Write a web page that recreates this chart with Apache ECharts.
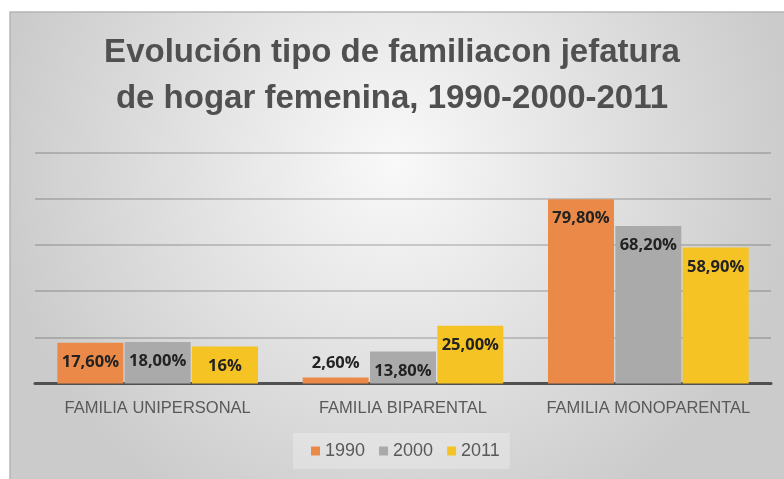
<!DOCTYPE html>
<html>
<head>
<meta charset="utf-8">
<script src="https://cdn.jsdelivr.net/npm/echarts@6/dist/echarts.min.js"></script>
<style>
  html, body { margin: 0; padding: 0; background: #fff; }
  #chart { width: 784px; height: 479px; }
</style>
</head>
<body>
<div id="chart"></div>
<script>
var categories = ['FAMILIA UNIPERSONAL', 'FAMILIA BIPARENTAL', 'FAMILIA MONOPARENTAL'];
var years = ['1990', '2000', '2011'];
var values1990 = [17.6, 2.6, 79.8];
var values2000 = [18.0, 13.8, 68.2];
var values2011 = [16, 25.0, 58.9];
var labels1990 = ['17,60%', '2,60%', '79,80%'];
var labels2000 = ['18,00%', '13,80%', '68,20%'];
var labels2011 = ['16%', '25,00%', '58,90%'];
var colors = ['#eb8a48', '#aaaaaa', '#f6c324'];

var chart = echarts.init(document.getElementById('chart'));

function makeSeries(name, vals, labels, color) {
    return {
        name: name,
        type: 'bar',
        barWidth: 66,
        barGap: '2%',
        itemStyle: { color: color },
        label: {
            show: true,
            position: 'insideTop',
            distance: 11,
            fontFamily: 'Open Sans',
            fontWeight: 'bold',
            fontSize: 16.5,
            color: '#222',
            formatter: function (p) { return labels[p.dataIndex]; }
        },
        data: vals.map(function (v) {
            // a very short bar gets its label above it
            if (v < 5) {
                return { value: v, label: { position: 'top', distance: 6 } };
            }
            return v;
        })
    };
}

var option = {
    animation: false,
    graphic: [{
        type: 'rect',
        z: -10,
        silent: true,
        shape: { x: 10, y: 12, width: 800, height: 500 },
        style: {
            fill: new echarts.graphic.RadialGradient(0.48, 0.3, 0.8, [
                { offset: 0, color: '#f9f9f9' },
                { offset: 1, color: '#cbcbcb' }
            ]),
            stroke: '#b5b5b5',
            lineWidth: 1.5
        }
    }],
    title: {
        text: 'Evolución tipo de familiacon jefatura\nde hogar femenina, 1990-2000-2011',
        left: 'center',
        top: 30,
        padding: 0,
        textStyle: {
            fontFamily: 'Liberation Sans',
            fontWeight: 'bold',
            fontSize: 33,
            lineHeight: 46,
            color: '#505050'
        }
    },
    legend: {
        data: years,
        left: 293,
        top: 433,
        padding: [9, 10, 9, 18],
        backgroundColor: 'rgba(255,255,255,0.25)',
        itemWidth: 9,
        itemHeight: 9,
        itemGap: 14,
        icon: 'rect',
        textStyle: { fontFamily: 'Liberation Sans', fontSize: 18, color: '#595959' }
    },
    grid: { left: 35, right: 13, top: 152.5, bottom: 95.5 },
    xAxis: {
        type: 'category',
        data: categories,
        axisTick: { show: false },
        axisLine: { lineStyle: { color: '#505050', width: 3 } },
        axisLabel: {
            interval: 0,
            margin: 16,
            fontFamily: 'Liberation Sans',
            fontSize: 16.5,
            color: '#595959'
        }
    },
    yAxis: {
        type: 'value',
        min: 0,
        max: 100,
        interval: 20,
        axisLabel: { show: false },
        axisLine: { show: false },
        axisTick: { show: false },
        splitLine: { lineStyle: { color: 'rgba(0,0,0,0.22)', width: 1.5 } }
    },
    series: [
        makeSeries(years[0], values1990, labels1990, colors[0]),
        makeSeries(years[1], values2000, labels2000, colors[1]),
        makeSeries(years[2], values2011, labels2011, colors[2])
    ]
};

chart.setOption(option);
</script>
</body>
</html>
